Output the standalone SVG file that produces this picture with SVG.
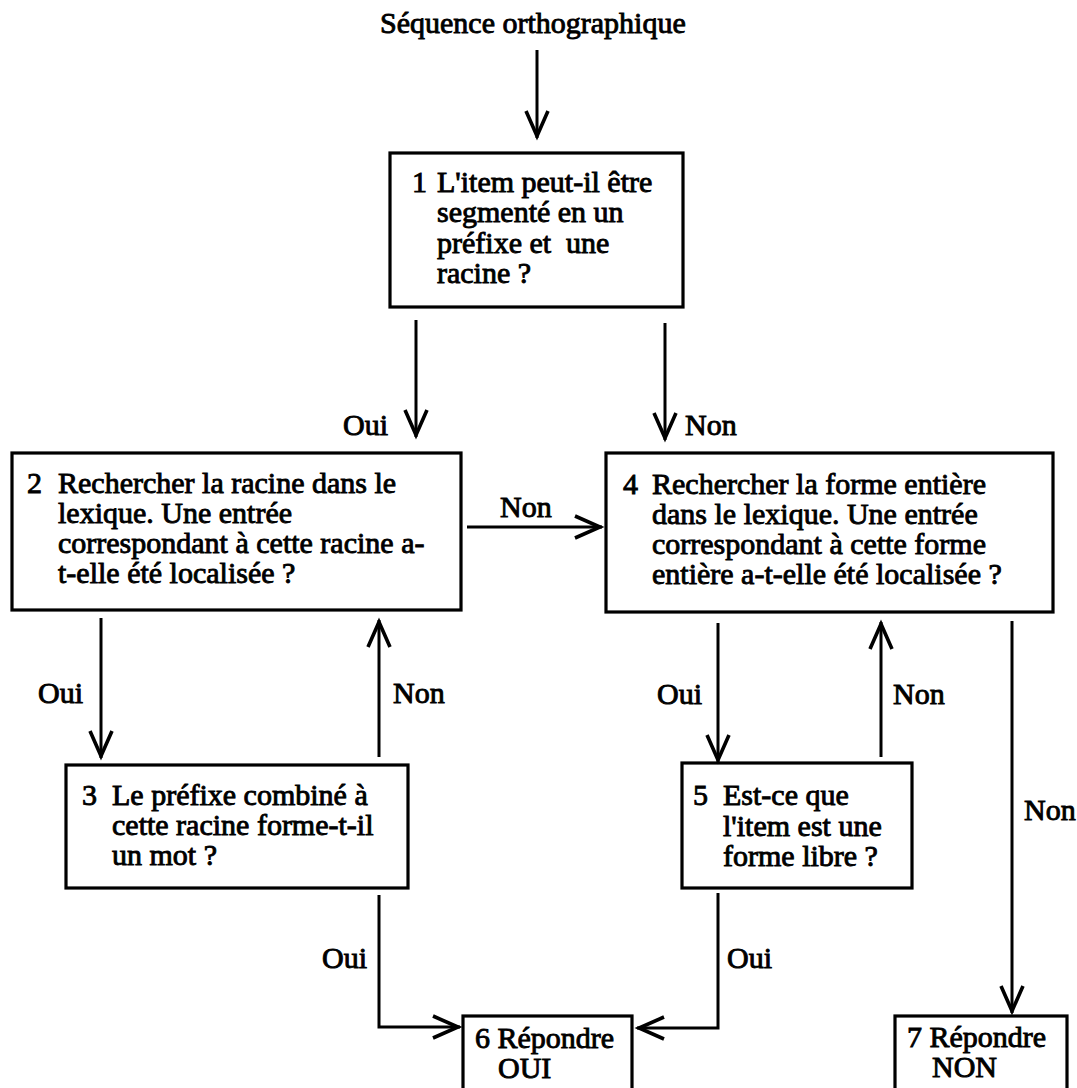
<svg xmlns="http://www.w3.org/2000/svg" width="1077" height="1088" viewBox="0 0 1077 1088">
<style>
  text { font-family: "Liberation Serif", "Times New Roman", serif; font-size: 30px; fill: #000; stroke: #000; stroke-width: 0.9px; }
  .box { fill: #fff; stroke: #000; stroke-width: 3.2; }
  .line { fill: none; stroke: #000; stroke-width: 3; stroke-linecap: butt; }
</style>
<defs>
  <marker id="ah" markerUnits="userSpaceOnUse" markerWidth="40" markerHeight="40" viewBox="-32 -20 40 40" refX="0" refY="0" orient="auto" overflow="visible">
    <path d="M-27,-11 L-2,0 L-27,11" fill="none" stroke="#000" stroke-width="3.6" stroke-linejoin="miter"/>
  </marker>
</defs>
<rect width="1077" height="1088" fill="#fff"/>

<g id="title">
  <text x="380" y="33">Séquence orthographique</text>
</g>

<g id="node1">
  <rect class="box" x="390" y="153" width="293" height="154"/>
  <text x="412" y="192">1</text>
  <text x="437" y="192">L'item peut-il être</text>
  <text x="437" y="222">segmenté en un</text>
  <text x="437" y="253" xml:space="preserve">préfixe et  une</text>
  <text x="437" y="283">racine ?</text>
</g>

<g id="node2">
  <rect class="box" x="12" y="453" width="449" height="157"/>
  <text x="27" y="493">2</text>
  <text x="58" y="493">Rechercher la racine dans le</text>
  <text x="58" y="523">lexique. Une entrée</text>
  <text x="58" y="553">correspondant à cette racine a-</text>
  <text x="58" y="583">t-elle été localisée ?</text>
</g>

<g id="node4">
  <rect class="box" x="606" y="453" width="447" height="159"/>
  <text x="623" y="494">4</text>
  <text x="652" y="494">Rechercher la forme entière</text>
  <text x="652" y="524">dans le lexique. Une entrée</text>
  <text x="652" y="554">correspondant à cette forme</text>
  <text x="652" y="584">entière a-t-elle été localisée ?</text>
</g>

<g id="node3">
  <rect class="box" x="66" y="765" width="342" height="123"/>
  <text x="82" y="805">3</text>
  <text x="112" y="805">Le préfixe combiné à</text>
  <text x="112" y="835">cette racine forme-t-il</text>
  <text x="112" y="865">un mot ?</text>
</g>

<g id="node5">
  <rect class="box" x="682" y="763" width="230" height="125"/>
  <text x="693" y="805">5</text>
  <text x="723" y="805">Est-ce que</text>
  <text x="723" y="836">l'item est une</text>
  <text x="723" y="866">forme libre ?</text>
</g>

<g id="node6">
  <rect class="box" x="463" y="1016" width="169" height="90"/>
  <text x="475" y="1048">6 Répondre</text>
  <text x="498" y="1078">OUI</text>
</g>

<g id="node7">
  <rect class="box" x="895" y="1016" width="172" height="90"/>
  <text x="907" y="1047">7 Répondre</text>
  <text x="932" y="1077">NON</text>
</g>

<g id="connectors">
  <line class="line" x1="537" y1="50" x2="537" y2="138" marker-end="url(#ah)"/>
  <line class="line" x1="416" y1="320" x2="416" y2="437" marker-end="url(#ah)"/>
  <line class="line" x1="665" y1="323" x2="665" y2="440" marker-end="url(#ah)"/>
  <line class="line" x1="467" y1="527" x2="602" y2="527" marker-end="url(#ah)"/>
  <line class="line" x1="101" y1="618" x2="101" y2="758" marker-end="url(#ah)"/>
  <line class="line" x1="379" y1="757" x2="379" y2="620" marker-end="url(#ah)"/>
  <line class="line" x1="718" y1="623" x2="718" y2="762" marker-end="url(#ah)"/>
  <line class="line" x1="881" y1="757" x2="881" y2="622" marker-end="url(#ah)"/>
  <line class="line" x1="1012" y1="621" x2="1012" y2="1013" marker-end="url(#ah)"/>
  <polyline class="line" points="379,895 379,1027 460,1027" marker-end="url(#ah)"/>
  <polyline class="line" points="718,893 718,1028 637,1028" marker-end="url(#ah)"/>
</g>

<g id="labels">
  <text x="343" y="435">Oui</text>
  <text x="685" y="435">Non</text>
  <text x="500" y="517">Non</text>
  <text x="38" y="703">Oui</text>
  <text x="393" y="703">Non</text>
  <text x="657" y="704">Oui</text>
  <text x="893" y="704">Non</text>
  <text x="1024" y="820">Non</text>
  <text x="322" y="968">Oui</text>
  <text x="727" y="968">Oui</text>
</g>
</svg>
